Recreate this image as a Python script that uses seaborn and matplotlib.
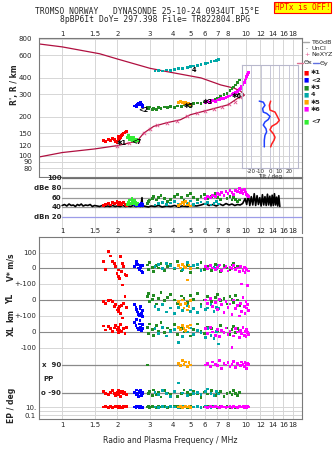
import numpy as np
import pandas as pd
import matplotlib
matplotlib.use("Agg")
import matplotlib.pyplot as plt
from matplotlib.lines import Line2D
from matplotlib.ticker import FixedLocator, FixedFormatter, NullLocator
import seaborn as sns

sns.set_theme(style="white")
plt.rcParams['font.family'] = ['DejaVu Sans']

# ------------------------------------------------------------------ data
freq_ticks = [1, 1.5, 2, 3, 4, 5, 6, 7, 8, 10, 12, 14, 16, 18]
freq_labels = ["1", "1.5", "2", "3", "4", "5", "6", "7", "8", "10", "12", "14", "16", "18"]
height_ticks = [80, 90, 100, 120, 150, 200, 300, 400, 600, 800]
amp_ticks = [100, 80, 60, 40, 20]
amp_labels = ["100", "dBe 80", "60", "40", "dBn 20"]

# profile (true height) curve
prof_f = [0.75, 1.0, 1.6, 2.0, 3.0, 3.7, 5.7, 7.3, 8.6, 9.4, 9.7, 9.8, 9.6, 9.0, 8.0,
          6.4, 5.0, 4.4, 3.7, 3.15, 2.78, 2.56, 2.0, 1.5, 1.0, 0.75]
prof_h = [732, 695, 615, 560, 475, 448, 400, 353, 334, 315, 300, 294, 288, 278, 248,
          228, 208, 190, 180, 169, 150, 130, 120, 113, 106, 98]
ne_f = [2.0, 2.3, 2.6, 2.8, 3.0, 3.3, 3.7, 4.2, 4.8, 5.4, 6.0, 6.7, 7.4, 8.1, 8.7, 9.3]
ne_h = [120, 125, 131, 150, 160, 172, 180, 187, 203, 214, 222, 232, 240, 250, 262, 284]

# echo traces
red_f = [1.68, 1.72, 1.78, 1.83, 1.88, 1.93, 1.95, 1.99, 2.02, 2.03, 2.05, 2.07, 2.10, 2.12, 2.16, 2.20, 2.24]
red_h = [131, 129, 133, 131, 137, 134, 129, 126, 134, 141, 136, 138, 143, 146, 150, 152, 155]
red_amp = [44, 46, 48, 45, 50, 47, 49, 52, 46, 48, 51, 47, 45, 49, 50, 46, 44]
red_v = [40, -8, 105, 77, 40, 30, 8, -34, -56, -13, -66, 73, -24, 30, 12, -40, -50]
red_yl = [-10, -21, -5, 0, -10, -42, -30, -62, -52, -73, -40, -83, -35, 94, -20, 21, -48]
red_xl = [37, 12, 33, 20, 5, 25, 40, 15, -5, 30, 10, 45, 2, 87, 20, -10, 28]
red_pp = [-80, -95, -100, -85, -75, -92, -105, -88, -70, -98, -82, -110, -90, -78, -95, -85, -100]
red_ep = [10, 12, 9, 11, 8, 10, 13, 10, 9, 11, 12, 10, 9, 8, 11, 10, 12]

blue_f = [2.48, 2.52, 2.55, 2.58, 2.60, 2.63, 2.65, 2.68, 2.70, 2.73, 2.75]
blue_h = [243, 246, 241, 249, 252, 247, 255, 258, 250, 244, 240]
blue_amp = [45, 47, 44, 48, 46, 43, 47, 45, 49, 44, 46]
blue_v = [10, 30, 40, 25, 0, -10, 20, 5, -20, 15, -30]
blue_yl = [-30, -45, -60, -75, -90, -100, -55, -40, -85, -65, -105]
blue_xl = [60, 40, 80, 25, 15, 50, 70, 30, 10, 45, 20]
blue_pp = [-85, -100, -70, -95, -110, -80, -90, -75, -105, -88, -95]
blue_ep = [10, 9, 11, 10, 12, 9, 10, 11, 8, 10, 9]

green_f = [2.90, 2.95, 3.00, 3.10, 3.15, 3.25, 3.35, 3.45, 3.60, 3.75, 3.90, 4.10, 4.25, 4.45, 4.60, 4.80, 5.00,
           5.20, 5.45, 5.70, 5.95, 6.20, 6.50, 6.80, 7.00, 7.30, 7.60, 7.90, 8.20, 8.40, 8.60, 8.80, 9.00, 9.20]
green_h = [235, 230, 238, 228, 233, 229, 236, 231, 238, 235, 240, 237, 243, 241, 247, 249, 245,
           252, 256, 253, 261, 264, 268, 275, 280, 286, 297, 305, 318, 330, 340, 353, 368, 386]
green_amp = [48, 52, 55, 58, 62, 55, 60, 65, 58, 52, 56, 62, 66, 60, 55, 64, 68,
             60, 57, 63, 66, 58, 62, 68, 60, 56, 64, 58, 62, 55, 60, 57, 52, 55]
green_v = [20, -10, 35, 5, -25, 15, 0, 30, -15, 10, 25, -5, 40, -20, 5, 15, -30,
           20, 0, 35, -10, 10, -15, 25, 5, -25, 15, 0, -10, 20, 30, -5, 10, -20]
green_yl = [20, 40, -10, 5, 30, -25, 10, 45, -5, 15, 35, 0, -20, 25, 10, -15, 30,
            5, 40, -30, 0, 20, -10, 15, 35, -5, 10, -25, 20, 5, -15, 30, 0, -35]
green_xl = [30, -10, 50, 15, -20, 40, 5, 60, -5, 25, 10, 45, -15, 20, 0, 35, -25,
            15, 50, 5, -10, 30, 20, -20, 10, 40, 0, 25, -15, 15, 35, -5, 20, 10]
green_pp = [90, -95, -80, -105, -70, -100, -85, -115, -75, -90, -100, -80, -110, -95, -70, -88, -102,
            -78, -92, -118, -84, -96, -72, -105, -90, -80, -110, -95, -85, -100, -75, -92, -108, -88]
green_ep = [10, 11, 9, 12, 10, 8, 11, 10, 13, 9, 10, 12, 11, 9, 10, 8, 11,
            10, 12, 9, 10, 11, 13, 10, 9, 11, 10, 12, 8, 10, 11, 9, 10, 11]

teal_f = [3.20, 3.35, 3.50, 3.70, 3.90, 4.10, 4.30, 4.50, 4.80, 5.00, 5.20, 5.45, 5.70, 6.00, 6.20, 6.45, 6.70, 6.90, 7.10]
teal_h = [452, 455, 453, 460, 458, 465, 470, 474, 480, 487, 494, 498, 505, 515, 522, 534, 540, 548, 558]
teal_amp = [45, 48, 50, 46, 49, 52, 47, 50, 48, 53, 46, 49, 51, 47, 50, 45, 48, 52, 47]
teal_v = [10, 25, -5, 30, 15, 0, 20, -10, 35, 5, 15, 25, -15, 10, 0, 20, 5, -5, 15]
teal_yl = [-40, -60, -30, -75, -50, -85, -45, -65, -35, -70, -55, -80, -40, -60, -50, -30, -70, -45, -55]
teal_xl = [20, -10, 30, -25, 5, 15, -67, -30, 0, 25, -15, 10, -5, -35, 20, -20, -40, 5, -75]
teal_pp = [-85, -100, -75, -95, -110, -80, -26, -90, -105, -70, -95, -85, -100, -78, -64, -92, -108, -82, -96]
teal_ep = [10, 9, 11, 10, 12, 10, 9, 11, 10, 8, 10, 11, 9, 12, 10, 9, 11, 10, 10]

orange_f = [4.30, 4.40, 4.50, 4.60, 4.70, 4.80, 4.90, 5.00]
orange_h = [258, 262, 260, 255, 259, 252, 256, 250]
orange_amp = [44, 47, 50, 46, 52, 45, 48, 43]
orange_v = [15, 0, 25, 10, 5, -77, 20, -5]
orange_yl = [-10, -30, 0, -50, -20, -62, -40, -5]
orange_xl = [30, 15, 40, 20, 10, 35, 25, 44]
orange_pp = [100, 85, 120, 95, 110, 80, 105, 90]
orange_ep = [10, 11, 9, 10, 12, 10, 11, 9]

magenta_f = [6.0, 6.2, 6.4, 6.6, 6.8, 7.0, 7.2, 7.4, 7.6, 7.8, 8.0, 8.2, 8.4, 8.6, 8.8,
             9.0, 9.2, 9.35, 9.5, 9.65, 9.8, 9.9, 10.0, 10.1, 10.2, 10.3]
magenta_h = [258, 262, 260, 266, 264, 270, 272, 276, 278, 282, 286, 290, 296, 302, 308,
             315, 324, 332, 343, 355, 368, 380, 395, 410, 425, 441]
magenta_amp = [58, 62, 60, 65, 63, 68, 66, 70, 64, 72, 68, 74, 70, 66, 75,
               72, 78, 70, 74, 68, 76, 72, 70, 66, 64, 62]
magenta_v = [10, -5, 15, 0, -10, 5, 20, -15, 0, 10, -20, 5, -5, 15, -10,
             0, -25, 10, -103, -15, 5, -30, 0, -10, -114, -20]
magenta_yl = [0, -20, 10, -40, -15, -60, 5, -30, -80, -10, -45, -25, -90, 0, -55,
              -35, -100, -20, -70, 15, -40, -85, -10, -50, -30, -65]
magenta_xl = [20, -10, 30, 0, -20, 15, -30, 10, -5, 25, -15, 5, -96, -25, 20,
              0, -35, 10, -10, 30, -20, 5, -30, 15, -5, -15]
magenta_pp = [90, 100, 80, 110, 95, 85, 120, 70, 100, 90, 105, 80, 95, 115, 75,
              100, 90, 85, 110, 95, 80, 105, 90, 70, 100, 95]
magenta_ep = [10, 9, 11, 10, 12, 10, 9, 11, 10, 8, 10, 11, 9, 12, 10,
              9, 11, 10, 10, 12, 9, 11, 10, 9, 11, 10]

lime_f = [2.27, 2.30, 2.33, 2.36, 2.40, 2.42, 2.45, 2.48, 2.50, 2.53, 2.56]
lime_h = [138, 143, 134, 140, 136, 131, 139, 133, 129, 135, 131]
lime_amp = [46, 50, 55, 48, 58, 52, 47, 54, 50, 45, 49]

# unclassified echo amplitude (black)
noise_f = [1.00, 1.03, 1.06, 1.09, 1.12, 1.15, 1.18, 1.21, 1.24, 1.27, 1.30, 1.34, 1.38, 1.42, 1.46, 1.50,
           1.55, 1.60, 1.65, 1.70, 1.76, 1.82, 1.88, 1.94, 2.00, 2.07, 2.14, 2.21, 2.28, 2.36, 2.44, 2.52,
           2.60, 2.68, 2.72, 2.74, 2.78, 2.86, 2.95, 3.05, 3.2, 3.35, 3.5, 3.7, 3.9, 4.1, 4.3, 4.5,
           4.8, 5.1, 5.4, 5.7, 6.0, 6.3, 6.6, 6.9, 7.2, 7.5, 7.8, 8.1, 8.4, 8.7, 9.0, 9.3,
           9.6, 9.9, 10.1, 10.3, 10.5, 10.7, 10.9, 11.1, 11.3, 11.5, 11.7, 11.9, 12.1, 12.3, 12.5, 12.7,
           12.9, 13.1, 13.3, 13.5, 13.7, 13.9, 14.1, 14.3, 14.5, 14.7, 14.9, 15.1, 15.3]
noise_amp = [44, 46, 43, 47, 44, 45, 42, 46, 44, 47, 43, 45, 44, 46, 42, 44,
             43, 42, 44, 42, 43, 42, 44, 42, 43, 42, 44, 42, 43, 42, 44, 42,
             43, 42, 60, 42, 43, 42, 41, 43, 42, 44, 41, 43, 42, 44, 41, 43,
             42, 44, 43, 45, 48, 44, 46, 43, 47, 44, 48, 45, 47, 44, 46, 45,
             48, 58, 46, 66, 44, 62, 45, 68, 44, 64, 46, 60, 43, 66, 45, 62,
             44, 67, 45, 63, 43, 65, 44, 68, 45, 61, 43, 64, 42]

# tilt inset
tiltx_h = [267, 248, 228, 220, 208, 190, 180, 171, 161, 150, 141, 134, 125, 119]
tiltx_deg = [0.7, -0.7, 0, 5.4, 7.2, 10, 7.2, 1.8, 0, 3.6, 5.4, 4.3, 1.8, 0.7]
tilty_h = [267, 262, 248, 234, 220, 215, 204, 193, 185, 175, 164, 155, 146, 134, 119]
tilty_deg = [-11.5, -7.2, -5.4, -7.9, -7.2, -3.6, 0, -1.8, -5.4, -7.2, -4.3, -3.6, -5.4, -6.1, -6.1]

trace_names = ["✱1", "<2", "✱3", "4", "✱5", "✱6", "<7"]
trace_colors = ["#ff0000", "#0000ff", "#228b22", "#00a8a8", "#ffa500", "#ff00ff", "#33ee33"]
lab_f = [2.1, 2.76, 6.17, 5.2, 4.9, 8.94, 2.52]
lab_h = [126, 226, 260, 460, 243, 292, 127]

# ------------------------------------------------------------------ frames
palette = dict(zip(trace_names, trace_colors))
top_rows = [
    ("✱1", red_f, red_h, red_amp), ("<2", blue_f, blue_h, blue_amp),
    ("✱3", green_f, green_h, green_amp), ("4", teal_f, teal_h, teal_amp),
    ("✱5", orange_f, orange_h, orange_amp), ("✱6", magenta_f, magenta_h, magenta_amp),
    ("<7", lime_f, lime_h, lime_amp),
]
df_top = pd.concat([pd.DataFrame({"f": f, "h": h, "amp": a, "trace": k}) for k, f, h, a in top_rows],
                   ignore_index=True)

low_rows = [
    ("✱1", red_f, red_v, red_yl, red_xl, red_pp, red_ep),
    ("<2", blue_f, blue_v, blue_yl, blue_xl, blue_pp, blue_ep),
    ("✱3", green_f, green_v, green_yl, green_xl, green_pp, green_ep),
    ("4", teal_f, teal_v, teal_yl, teal_xl, teal_pp, teal_ep),
    ("✱5", orange_f, orange_v, orange_yl, orange_xl, orange_pp, orange_ep),
    ("✱6", magenta_f, magenta_v, magenta_yl, magenta_xl, magenta_pp, magenta_ep),
]

# stacked sub-scales in the lower panel
def u_v(v): return 0.155 * np.asarray(v, float)
def u_yl(y): return -32 + 0.16 * np.asarray(y, float)
def u_xl(x): return -64 + 0.16 * np.asarray(x, float)
def u_pp(p): return -111 + np.asarray(p, float) * 14 / 90
def u_ep(e): return -139 - (1 - np.log10(np.asarray(e, float))) * 4

parts = []
for k, f, v, yl, xl, pp, ep in low_rows:
    for vals, fn in ((v, u_v), (yl, u_yl), (xl, u_xl), (pp, u_pp), (ep, u_ep)):
        parts.append(pd.DataFrame({"f": f, "u": fn(vals), "trace": k}))
df_low = pd.concat(parts, ignore_index=True)

# ------------------------------------------------------------------ figure
W, H = 335.0, 451.0
fig = plt.figure(figsize=(3.35, 4.51), dpi=100)
fig.patch.set_facecolor("white")

def rect(x0, y0, x1, y1):
    return [x0 / W, 1 - y1 / H, (x1 - x0) / W, (y1 - y0) / H]

ax_top = fig.add_axes(rect(39, 38, 302, 177))
ax_amp = fig.add_axes(rect(39, 178, 302, 233))
ax_low = fig.add_axes(rect(39, 237, 302, 419))
ax_tilt = fig.add_axes(rect(242, 65, 298, 168))

FS = 5
GRID = "#d6d6d6"
FRAME = "#7a7a7a"
MS = 4

def base(ax):
    ax.set_xscale("log")
    ax.set_xlim(0.748, 20.2)
    ax.xaxis.set_major_locator(FixedLocator(freq_ticks))
    ax.xaxis.set_major_formatter(FixedFormatter(freq_labels))
    ax.xaxis.set_minor_locator(NullLocator())
    ax.set_facecolor("white")
    for t in freq_ticks:
        ax.axvline(t, color=GRID, lw=0.7, zorder=0)
    for s in ax.spines.values():
        s.set_color(FRAME)
        s.set_linewidth(0.8)
    ax.set_xlabel("")
    ax.set_ylabel("")

# ---- top panel
base(ax_top)
ax_top.set_yscale("log")
ax_top.set_ylim(68.6, 814)
ax_top.yaxis.set_major_locator(FixedLocator(height_ticks))
ax_top.yaxis.set_major_formatter(FixedFormatter([str(t) for t in height_ticks]))
ax_top.yaxis.set_minor_locator(NullLocator())
for t in height_ticks:
    ax_top.axhline(t, color=GRID, lw=0.7, zorder=0)
ax_top.tick_params(axis="x", which="both", top=True, bottom=False, labeltop=True,
                   labelbottom=False, labelsize=FS, pad=1, length=0)
ax_top.tick_params(axis="y", labelsize=FS, pad=5, length=0)

sns.lineplot(x=prof_f, y=prof_h, sort=False, estimator=None, color="#b01040", lw=0.9,
             ax=ax_top, zorder=2)
sns.scatterplot(x=ne_f, y=ne_h, marker="x", s=6, color="#e0508a", linewidth=0.6,
                ax=ax_top, zorder=3, legend=False)
sns.scatterplot(data=df_top, x="f", y="h", hue="trace", palette=palette, marker="s",
                s=MS, linewidth=0, ax=ax_top, zorder=4, legend=False)
for name, f, h in zip(trace_names, lab_f, lab_h):
    ax_top.text(f, h, name, fontsize=4.8, fontweight="bold", color="black",
                ha="center", va="center", zorder=6)
ax_top.set_xlabel("")
ax_top.set_ylabel("")
fig.text(14 / W, 1 - 85 / H, "R', R / km", rotation=90, fontsize=FS + 0.5,
         ha="center", va="center", fontweight="bold")

# ---- tilt inset
ax_tilt.set_yscale("log")
ax_tilt.set_ylim(82, 505)
ax_tilt.set_xlim(-30, 30)
ax_tilt.patch.set_alpha(0)
for t in [-20, -10, 0, 10, 20]:
    ax_tilt.axvline(t, color="#c8c8d8", lw=0.7, zorder=0)
sns.lineplot(x=tiltx_deg, y=tiltx_h, sort=False, estimator=None, color="#ff2020", lw=1.1,
             ax=ax_tilt)
sns.lineplot(x=tilty_deg, y=tilty_h, sort=False, estimator=None, color="#2040ff", lw=1.1,
             ax=ax_tilt)
ax_tilt.set_xticks([-20, -10, 0, 10, 20])
ax_tilt.set_xticklabels(["-20", "-10", "0", "10", "20"])
ax_tilt.yaxis.set_major_locator(NullLocator())
ax_tilt.yaxis.set_minor_locator(NullLocator())
ax_tilt.tick_params(axis="x", labelsize=4.0, pad=0.5, length=0)
ax_tilt.set_xlabel("Tilt / deg", fontsize=4.0, labelpad=0.3)
ax_tilt.set_ylabel("")
for s in ax_tilt.spines.values():
    s.set_color("#b8b8cc")
    s.set_linewidth(0.8)

# ---- amplitude panel
base(ax_amp)
ax_amp.set_ylim(-12, 100)
ax_amp.spines["left"].set_visible(False)
ax_amp.spines["bottom"].set_visible(False)
ax_amp.spines["top"].set_visible(False)
ax_amp.tick_params(axis="both", which="both", left=False, bottom=False, top=False,
                   labelleft=False, labelbottom=False, length=0)
amp_line_colors = ["#6e6e6e", "#9a9a9a", "#9a9a9a", "#9a9a9a", "#9c9ce8"]
for t, lab, c in zip(amp_ticks, amp_labels, amp_line_colors):
    ax_amp.plot([1.0, 20.2], [t, t], color=c, lw=0.9, zorder=1)
    ax_amp.text(0.99, t, lab, fontsize=FS, ha="right", va="center", fontweight="bold")
sns.lineplot(x=noise_f, y=noise_amp, sort=False, estimator=None, color="black", lw=1.2,
             ax=ax_amp, zorder=2)
sns.scatterplot(data=df_top, x="f", y="amp", hue="trace", palette=palette, marker="s",
                s=MS, linewidth=0, ax=ax_amp, zorder=3, legend=False)
ax_amp.set_xlabel("")
ax_amp.set_ylabel("")

# ---- lower panel
base(ax_low)
ax_low.set_ylim(-151, 31)
low_tick_pos = [u_v(100), u_v(0), u_v(-100), u_yl(0), u_yl(-100), u_xl(0), u_xl(-100), u_ep(10), u_ep(0.1)]
low_tick_lab = ["100", "0", "+-100", "0", "+-100", "0", "-100", "10.", "0.1"]
ax_low.yaxis.set_major_locator(FixedLocator([float(p) for p in low_tick_pos]))
ax_low.yaxis.set_major_formatter(FixedFormatter(low_tick_lab))
ax_low.tick_params(axis="y", labelsize=FS, pad=2, length=0)
ax_low.tick_params(axis="x", which="both", top=True, bottom=True, labeltop=True,
                   labelbottom=True, labelsize=FS, pad=2, length=0)
dark_lines = [u_v(0), u_yl(0), u_xl(0)]
light_lines = [u_v(100), u_v(-100), u_yl(-100), u_xl(-100), u_ep(10), u_ep(1), u_ep(0.1)]
for y in dark_lines:
    ax_low.axhline(float(y), color="#8a8a8a", lw=0.8, zorder=0)
for y in light_lines:
    ax_low.axhline(float(y), color=GRID, lw=0.7, zorder=0)
for p, lab in ((90, "x  90"), (-90, "o -90")):
    ax_low.plot([1.0, 20.2], [float(u_pp(p))] * 2, color="#8a8a8a", lw=0.9, zorder=0)
    ax_low.text(0.99, float(u_pp(p)), lab, fontsize=FS, ha="right", va="center", fontweight="bold")
ax_low.text(0.787, float(u_pp(0)), "PP", fontsize=FS, ha="left", va="center", fontweight="bold")
sns.scatterplot(data=df_low, x="f", y="u", hue="trace", palette=palette, marker="s",
                s=MS, linewidth=0, ax=ax_low, zorder=3, legend=False)
ax_low.set_xlabel("Radio and Plasma Frequency / MHz", fontsize=FS + 0.5, labelpad=6)
ax_low.set_ylabel("")

for txt, y in (("V* m/s", 267), ("YL", 299), ("km", 316), ("XL", 331), ("EP / deg", 405)):
    fig.text(11 / W, 1 - y / H, txt, rotation=90, fontsize=FS + 0.5, ha="center",
             va="center", fontweight="bold")

# ---- right-hand legend
def ft(x, y, s, **kw):
    fig.text(x / W, 1 - y / H, s, va="center", **kw)

LFS = 4.6
fig.add_artist(Line2D([303 / W, 309 / W], [1 - 42 / H] * 2, color="#a8a8a8", lw=1))
ft(311, 42, "T60dB", fontsize=LFS)
ft(305, 48.5, "·", fontsize=LFS, color="black")
ft(311, 48.5, "UnCl", fontsize=LFS)
ft(304, 55, "+", fontsize=LFS, color="#e0508a")
ft(311, 55, "NeXYZ", fontsize=LFS)
fig.add_artist(Line2D([297 / W, 303 / W], [1 - 63 / H] * 2, color="#e07090", lw=1))
ft(304, 63, "Θx", fontsize=LFS)
fig.add_artist(Line2D([313 / W, 319 / W], [1 - 63 / H] * 2, color="#6070e0", lw=1))
ft(320, 63, "Θy", fontsize=LFS)
leg_y = [72.7, 80, 87.5, 94.8, 102, 109.3, 121.7]
for name, c, y in zip(trace_names, trace_colors, leg_y):
    ft(304, y, "■", fontsize=4.0, color=c)
    ft(311, y, name, fontsize=LFS, fontweight="bold")

# ---- titles
ft(35, 12, "TROMSO NORWAY   DYNASONDE 25-10-24 0934UT 15°E",
   fontsize=5.75, family="DejaVu Sans Mono")
ft(60, 20, "8pBP6It DoY= 297.398 File= TR822804.BPG", fontsize=5.75, family="DejaVu Sans Mono")
fig.text(302.5 / W, 1 - 7.5 / H, "HPTx is OFF!", fontsize=5.6, family="DejaVu Sans Mono",
         color="#ff0000", ha="center", va="center",
         bbox=dict(boxstyle="square,pad=0.15", facecolor="#ffff00", edgecolor="#ff0000", lw=0.8))

fig.savefig("out.png", dpi=100)
